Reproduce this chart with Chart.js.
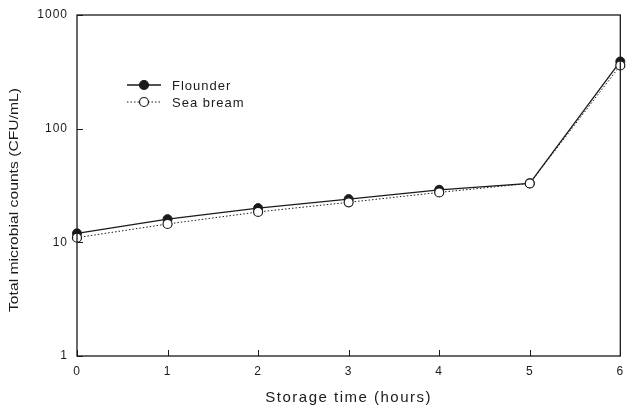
<!DOCTYPE html>
<html>
<head>
<meta charset="utf-8">
<style>
  html, body { margin: 0; padding: 0; background: #fff; }
  #wrap { width: 626px; height: 408px; position: relative; }
</style>
<script src="https://cdn.jsdelivr.net/npm/chart.js@4/dist/chart.umd.min.js"></script>
</head>
<body>
<div id="wrap"><canvas id="chart"></canvas></div>
<script>
// storage time (hours) and counts (CFU/mL)
const hours     = [0, 1, 2, 3, 4, 5, 6];
const flounder  = [12, 16, 20, 24, 29, 33, 390];
const seaBream  = [11, 14.5, 18.5, 22.5, 27.5, 33, 360];
const yTicks    = [1, 10, 100, 1000];
const xTitle    = 'Storage time (hours)';
const yTitle    = 'Total microbial counts (CFU/mL)';
const INK = '#1a1a1a';
const SANS = '"Liberation Sans", Arial, sans-serif';

const toPoints = vals => hours.map((h, i) => ({ x: h, y: vals[i] }));

// slightly spaced lettering, like the old plotting package
const spacing = {
  id: 'spacing',
  beforeDraw(chart) { chart.ctx.letterSpacing = '1px'; },
};

// inward tick marks plus the closed frame around the plot area
const frameTicks = {
  id: 'frameTicks',
  afterDraw(chart) {
    const { ctx, chartArea: a, scales } = chart;
    ctx.save();
    ctx.strokeStyle = INK;
    ctx.lineWidth = 1.3;
    ctx.strokeRect(a.left, a.top, a.right - a.left, a.bottom - a.top);
    ctx.lineWidth = 1;
    ctx.beginPath();
    scales.x.ticks.forEach(t => {
      const px = Math.round(scales.x.getPixelForValue(t.value)) + 0.5;
      ctx.moveTo(px, a.bottom); ctx.lineTo(px, a.bottom - 6);
    });
    scales.y.ticks.forEach(t => {
      const py = Math.round(scales.y.getPixelForValue(t.value)) + 0.5;
      ctx.moveTo(a.left, py); ctx.lineTo(a.left + 6, py);
    });
    ctx.stroke();
    ctx.restore();
  }
};

// axis titles drawn by hand so spacing and placement can be set freely
const axisTitles = {
  id: 'axisTitles',
  afterDraw(chart) {
    const { ctx, chartArea: a } = chart;
    ctx.save();
    ctx.fillStyle = INK;
    ctx.textAlign = 'center';
    ctx.textBaseline = 'middle';
    ctx.letterSpacing = '1.5px';
    ctx.font = '15px ' + SANS;
    ctx.fillText(xTitle, (a.left + a.right) / 2, 398);

    ctx.letterSpacing = '0px';
    ctx.font = '13px ' + SANS;
    const w = ctx.measureText(yTitle).width;
    ctx.translate(14, 200);
    ctx.rotate(-Math.PI / 2);
    ctx.scale(224 / w, 1);
    ctx.fillText(yTitle, 0, 0);
    ctx.restore();
  }
};

// small legend sitting inside the plot
const insetLegend = {
  id: 'insetLegend',
  afterDraw(chart) {
    const { ctx } = chart;
    const x0 = 127, x1 = 161, tx = 172;
    const rows = [85, 102];
    ctx.save();
    chart.data.datasets.slice().sort((p, q) => p.legendRow - q.legendRow).forEach((ds, i) => {
      const y = rows[i];
      ctx.strokeStyle = INK;
      ctx.lineWidth = ds.borderWidth;
      ctx.setLineDash(ds.borderDash || []);
      ctx.beginPath(); ctx.moveTo(x0, y); ctx.lineTo(x1, y); ctx.stroke();
      ctx.setLineDash([]);
      ctx.lineWidth = 1.2;
      ctx.fillStyle = ds.pointBackgroundColor;
      ctx.beginPath(); ctx.arc((x0 + x1) / 2, y, ds.pointRadius, 0, Math.PI * 2);
      ctx.fill(); ctx.stroke();
      ctx.fillStyle = INK;
      ctx.letterSpacing = '1px';
      ctx.font = '13px ' + SANS;
      ctx.textBaseline = 'middle';
      ctx.fillText(ds.label, tx, y + 1);
    });
    ctx.restore();
  }
};

new Chart(document.getElementById('chart'), {
  type: 'line',
  data: {
    datasets: [
      {
        label: 'Flounder',
        legendRow: 0,
        order: 1,
        clip: false,
        data: toPoints(flounder),
        borderColor: INK,
        borderWidth: 1.3,
        pointRadius: 4.5,
        pointBackgroundColor: INK,
        pointBorderColor: INK,
        pointBorderWidth: 1,
        tension: 0,
      },
      {
        label: 'Sea bream',
        legendRow: 1,
        order: 0,
        clip: false,
        data: toPoints(seaBream),
        borderColor: INK,
        borderWidth: 1,
        borderDash: [1.5, 2],
        pointRadius: 4.5,
        pointBackgroundColor: '#fff',
        pointBorderColor: INK,
        pointBorderWidth: 1.2,
        tension: 0,
      },
    ],
  },
  options: {
    responsive: true,
    maintainAspectRatio: false,
    animation: false,
    layout: { padding: { top: 15, right: 2, left: 0, bottom: 0 } },
    plugins: { legend: { display: false }, tooltip: { enabled: false } },
    scales: {
      x: {
        type: 'linear',
        min: 0,
        max: 6,
        afterFit: s => { s.height = 52; s.paddingLeft = 0; s.paddingRight = 0; },
        grid: { display: false, drawTicks: false },
        border: { display: false },
        ticks: {
          stepSize: 1,
          padding: 8,
          color: INK,
          font: { family: SANS, size: 12 },
        },
      },
      y: {
        type: 'logarithmic',
        min: 1,
        max: 1000,
        afterFit: s => { s.width = 77; s.paddingTop = 0; s.paddingBottom = 0; },
        afterBuildTicks: s => { s.ticks = yTicks.map(v => ({ value: v })); },
        grid: { display: false, drawTicks: false },
        border: { display: false },
        ticks: {
          padding: 9,
          color: INK,
          callback: v => String(v),
          font: { family: SANS, size: 12 },
        },
      },
    },
  },
  plugins: [spacing, frameTicks, axisTitles, insetLegend],
});
</script>
</body>
</html>
